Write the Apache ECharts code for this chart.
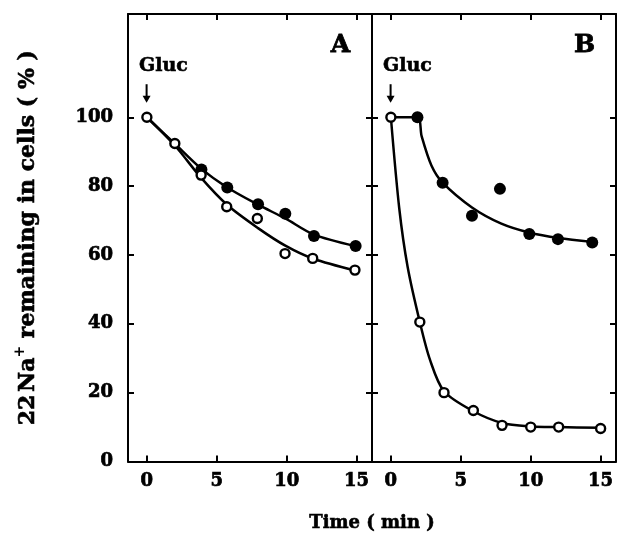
<!DOCTYPE html>
<html>
<head>
<meta charset="utf-8">
<script src="https://cdn.jsdelivr.net/npm/echarts@6/dist/echarts.min.js"></script>
<style>
html,body{margin:0;padding:0;background:#fff;}
#c{width:621px;height:533px;}
</style>
</head>
<body>
<div id="c"></div>
<script>
// ---- data ----
var xTicks = [0, 5, 10, 15];
var yTicks = [0, 20, 40, 60, 80, 100];

// Panel A
var aFilledX = [3.9, 5.75, 7.95, 9.9, 11.95, 14.93];
var aFilledY = [84.8, 79.6, 74.7, 72.0, 65.5, 62.6];
var aOpenX = [0, 2, 3.88, 5.71, 7.9, 9.88, 11.86, 14.88];
var aOpenY = [100, 92.4, 83.2, 74.0, 70.6, 60.4, 59.0, 55.6];
var aFilledCurveX = [0, 2, 3.9, 5.75, 7.95, 9.9, 11.9, 14.9];
var aFilledCurveY = [100, 92.3, 85.0, 79.6, 74.6, 70.6, 66.0, 62.6];
var aOpenCurveX = [0, 2, 3.9, 5.75, 7.95, 9.9, 11.9, 14.9];
var aOpenCurveY = [100, 91.8, 82.3, 74.5, 67.8, 62.7, 58.9, 55.5];

// Panel B
var bFilledX = [1.9, 3.7, 5.8, 7.8, 9.9, 11.95, 14.4];
var bFilledY = [100, 81.0, 71.4, 79.2, 66.1, 64.6, 63.6];
var bOpenX = [0, 2.07, 3.8, 5.9, 7.95, 10, 12, 15];
var bOpenY = [100, 40.5, 20.0, 14.8, 10.5, 10.0, 10.0, 9.6];
var bFilledCurveX = [0, 1.9, 2.2, 2.9, 3.7, 5.8, 7.9, 9.9, 12, 14.4];
var bFilledCurveY = [100, 100, 94.5, 86.0, 81.0, 73.8, 69.1, 66.5, 64.9, 63.8];
var bOpenCurveX = [0, 0.6, 1.2, 2.07, 2.8, 3.8, 5.9, 7.95, 10, 12, 15];
var bOpenCurveY = [100, 73.5, 56.5, 40.5, 29.5, 20.4, 14.6, 11.2, 10.2, 10.0, 9.8];

var xTitle = 'Time ( min )';
var panelLabels = ['A', 'B'];
var glucText = 'Gluc';

function pairs(xs, ys) { return xs.map(function (x, i) { return [x, ys[i]]; }); }

var FONT = 'DejaVu Serif';
var chart = echarts.init(document.getElementById('c'), null, {renderer: 'canvas'});

function xAx(grid, pos, labels) {
  return {
    type: 'value', gridIndex: grid, position: pos, min: -1.35, max: 16.1,
    axisLine: {show: true, onZero: false, lineStyle: {color: '#000', width: 2}},
    axisTick: {show: true, inside: true, length: 6, lineStyle: {color: '#000', width: 2}, customValues: xTicks},
    axisLabel: {show: labels, customValues: xTicks, margin: 11, color: '#000', fontFamily: FONT, fontWeight: 'bold', fontSize: 18,
      textBorderColor: '#000', textBorderWidth: 0.7},
    splitLine: {show: false}
  };
}
function yAx(grid, pos, labels, extra) {
  var a = {
    type: 'value', gridIndex: grid, position: pos, min: 0, max: 130,
    axisLine: {show: true, onZero: false, lineStyle: {color: '#000', width: 2}},
    axisTick: {show: true, inside: true, length: 6, lineStyle: {color: '#000', width: 2}, customValues: yTicks},
    axisLabel: {show: labels, customValues: yTicks, margin: 15, color: '#000', fontFamily: FONT, fontWeight: 'bold', fontSize: 18,
      textBorderColor: '#000', textBorderWidth: 0.7},
    splitLine: {show: false}
  };
  if (extra) for (var k in extra) a[k] = extra[k];
  return a;
}

function curve(data, xi, yi) {
  return {type: 'line', xAxisIndex: xi, yAxisIndex: yi, data: data, smooth: 0.3,
    showSymbol: false, symbol: 'none', lineStyle: {color: '#000', width: 2.5}, z: 2, silent: true, animation: false};
}
function filled(data, xi, yi) {
  return {type: 'scatter', xAxisIndex: xi, yAxisIndex: yi, data: data, symbol: 'circle', symbolSize: 12,
    itemStyle: {color: '#000', opacity: 1}, z: 3, animation: false};
}
function open(data, xi, yi) {
  return {type: 'scatter', xAxisIndex: xi, yAxisIndex: yi, data: data, symbol: 'circle', symbolSize: 9,
    itemStyle: {color: '#fff', borderColor: '#000', borderWidth: 2.4, opacity: 1}, z: 4, animation: false};
}

var tb = {color: '#000', fontFamily: FONT, fontWeight: 'bold', fontSize: 22, textBorderColor: '#000', textBorderWidth: 0.6};
var option = {
  backgroundColor: '#fff',
  animation: false,
  grid: [
    {left: 128, top: 14, width: 244, height: 447.5},
    {left: 372, top: 14, width: 244, height: 447.5}
  ],
  xAxis: [xAx(0, 'bottom', true), xAx(0, 'top', false), xAx(1, 'bottom', true), xAx(1, 'top', false)],
  yAxis: [
    yAx(0, 'left', true, {
      name: '{n|22}{g| }{n|Na}{sup|+}{n| remaining in cells ( % )}',
      nameLocation: 'middle', nameRotate: 90, nameGap: 85,
      nameTextStyle: {
        color: '#000', fontFamily: FONT, fontWeight: 'bold', fontSize: 22,
        rich: {
          n: tb,
          g: {fontSize: 8},
          sup: {color: '#000', fontFamily: FONT, fontWeight: 'bold', fontSize: 14, padding: [0, 0, 16, 0]}
        }
      }
    }),
    yAx(0, 'right', false),
    yAx(1, 'left', false),
    yAx(1, 'right', false)
  ],
  series: [
    curve(pairs(aFilledCurveX, aFilledCurveY), 0, 0),
    curve(pairs(aOpenCurveX, aOpenCurveY), 0, 0),
    filled(pairs(aFilledX, aFilledY), 0, 0),
    open(pairs(aOpenX, aOpenY), 0, 0),
    curve(pairs(bFilledCurveX, bFilledCurveY), 2, 2),
    curve(pairs(bOpenCurveX, bOpenCurveY), 2, 2),
    filled(pairs(bFilledX, bFilledY), 2, 2),
    open(pairs(bOpenX, bOpenY), 2, 2)
  ]
};
chart.setOption(option);

// annotations positioned through the axes' scales
function px(gridIdx, x, y) {
  return chart.convertToPixel({xAxisIndex: gridIdx * 2, yAxisIndex: gridIdx * 2}, [x, y]);
}
var g = [];
[0, 1].forEach(function (gi) {
  var t = px(gi, 1.18, 114.8);
  g.push({type: 'text', x: t[0], y: t[1], style: {text: glucText, fill: '#000', font: 'bold 19px "DejaVu Serif"', align: 'center', verticalAlign: 'middle', stroke: '#000', lineWidth: 0.6}});
  var a0 = px(gi, -0.02, 109.6), a1 = px(gi, -0.02, 104.2);
  g.push({type: 'line', shape: {x1: a0[0], y1: a0[1], x2: a1[0], y2: a1[1] - 5}, style: {stroke: '#000', lineWidth: 2}});
  g.push({type: 'polygon', shape: {points: [[a1[0] - 4, a1[1] - 7], [a1[0] + 4, a1[1] - 7], [a1[0], a1[1]]]}, style: {fill: '#000'}});
  var p = px(gi, 13.85, 120.8);
  g.push({type: 'text', x: p[0], y: p[1], style: {text: panelLabels[gi], fill: '#000', font: 'bold 25px "DejaVu Serif"', align: 'center', verticalAlign: 'middle', stroke: '#000', lineWidth: 0.8}});
});
var tbx = px(0, 16.1, 0);
g.push({type: 'text', x: tbx[0], y: 523, style: {text: xTitle, fill: '#000', font: 'bold 18px "DejaVu Serif"', align: 'center', verticalAlign: 'middle', stroke: '#000', lineWidth: 0.6}});
chart.setOption({graphic: g});
</script>
</body>
</html>
